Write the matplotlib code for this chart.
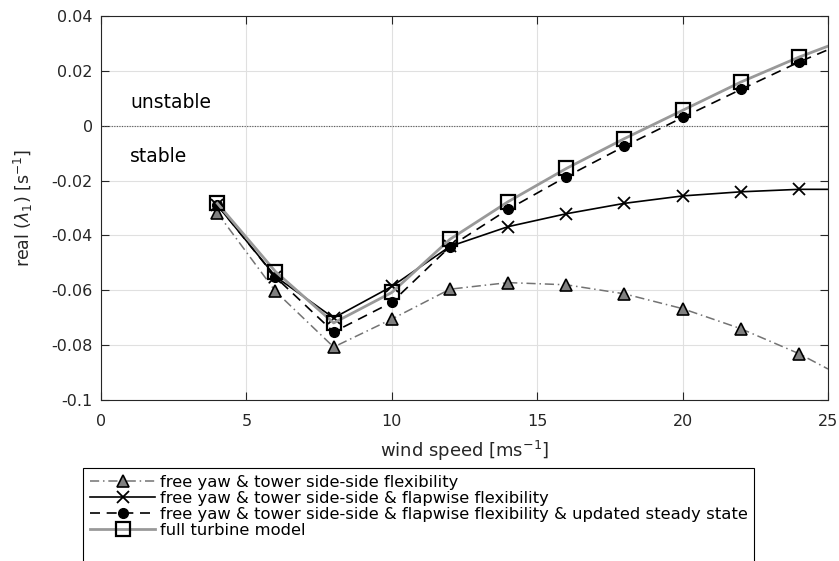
import numpy as np
import matplotlib
matplotlib.use("Agg")
import matplotlib.pyplot as plt
from matplotlib.patches import Rectangle

# wind speeds (last point = end of the curve at 25 m/s, no marker)
wind = [4, 6, 8, 10, 12, 14, 16, 18, 20, 22, 24, 25]
# free yaw & tower side-side flexibility
re_tower = [-0.0318, -0.0604, -0.0807, -0.0705, -0.0596, -0.0572,
            -0.0580, -0.0613, -0.0667, -0.0740, -0.0831, -0.0887]
# ... & flapwise flexibility
re_flap = [-0.0290, -0.0550, -0.0701, -0.0586, -0.0440, -0.0368,
           -0.0321, -0.0283, -0.0256, -0.0241, -0.0232, -0.0232]
# ... & updated steady state
re_steady = [-0.0289, -0.0552, -0.0752, -0.0644, -0.0441, -0.0305,
             -0.0186, -0.0075, 0.0030, 0.0132, 0.0232, 0.0277]
# full turbine model
re_full = [-0.0283, -0.0532, -0.0719, -0.0608, -0.0414, -0.0277,
           -0.0156, -0.0047, 0.0056, 0.0159, 0.0250, 0.0290]

labels = ["free yaw & tower side-side flexibility",
          "free yaw & tower side-side & flapwise flexibility",
          "free yaw & tower side-side & flapwise flexibility & updated steady state",
          "full turbine model"]

xticks = [0, 5, 10, 15, 20, 25]
yticks = [-0.1, -0.08, -0.06, -0.04, -0.02, 0, 0.02, 0.04]
ytick_labels = ["-0.1", "-0.08", "-0.06", "-0.04", "-0.02", "0", "0.02", "0.04"]

plt.rcParams['font.family'] = ['DejaVu Sans']
plt.rcParams['font.size'] = 11

fig = plt.figure(figsize=(8.39, 5.61), dpi=100)
ax = fig.add_axes([0.1204, 0.287, 0.8665, 0.6845])

mk = slice(0, 11)
ax.plot(wind, re_tower, color='0.45', ls=(0, (6, 2.5, 1, 2.5)), lw=1.1,
        marker='^', markersize=8, markerfacecolor='0.5', markeredgecolor='k',
        markeredgewidth=1.2, markevery=mk, label=labels[0])
ax.plot(wind, re_flap, color='k', ls='-', lw=1.2,
        marker='x', markersize=8, markeredgewidth=1.3, markevery=mk, label=labels[1])
ax.plot(wind, re_steady, color='k', ls=(0, (6, 4)), lw=1.2,
        marker='o', markersize=7, markerfacecolor='k', markevery=mk, label=labels[2])
ax.plot(wind, re_full, color='0.6', ls='-', lw=2.0,
        marker='s', markersize=9.5, markerfacecolor='none', markeredgecolor='k',
        markeredgewidth=1.6, markevery=mk, label=labels[3])

ax.axhline(0, color='0.35', ls=(0, (1, 1.3)), lw=0.8, zorder=1)

ax.set_xlim(0, 25)
ax.set_ylim(-0.1, 0.04)
ax.set_xticks(xticks)
ax.set_yticks(yticks)
ax.set_yticklabels(ytick_labels)
ax.grid(True, color='0.88', lw=0.8)
ax.set_axisbelow(True)
ax.tick_params(direction='in', length=6, top=True, right=True, colors='0.15',
               labelcolor='0.15', labelsize=11.5)
ax.tick_params(axis='x', pad=10)
ax.tick_params(axis='y', pad=6)
for sp in ax.spines.values():
    sp.set_color('0.15')
    sp.set_linewidth(0.8)

ax.text(1.0, 0.0085, "unstable", fontsize=13.5, va='center', ha='left')
ax.text(1.0, -0.0112, "stable", fontsize=13.5, va='center', ha='left')

ax.set_xlabel("wind speed [ms$^{-1}$]", fontsize=13, color='0.15', labelpad=7)
ax.set_ylabel(r"real ($\lambda_1$) [s$^{-1}$]", fontsize=12.5, color='0.15', labelpad=12)

leg = fig.legend(loc='upper left', bbox_to_anchor=(0.0989, 0.1658), borderaxespad=0,
                 fontsize=11.8, handlelength=4.0, handletextpad=0.25, labelspacing=0.065,
                 borderpad=0.42, fancybox=False, framealpha=1, edgecolor='k')
leg.get_frame().set_visible(False)

# legend box in the original runs past the bottom edge of the figure
fig.canvas.draw()
bb = leg.get_window_extent().transformed(fig.transFigure.inverted())
fig.add_artist(Rectangle((bb.x0, -0.05), bb.width, bb.y1 + 0.05, transform=fig.transFigure,
                         facecolor='none', edgecolor='k', lw=0.8, zorder=10))

fig.savefig("out.png", dpi=100)
